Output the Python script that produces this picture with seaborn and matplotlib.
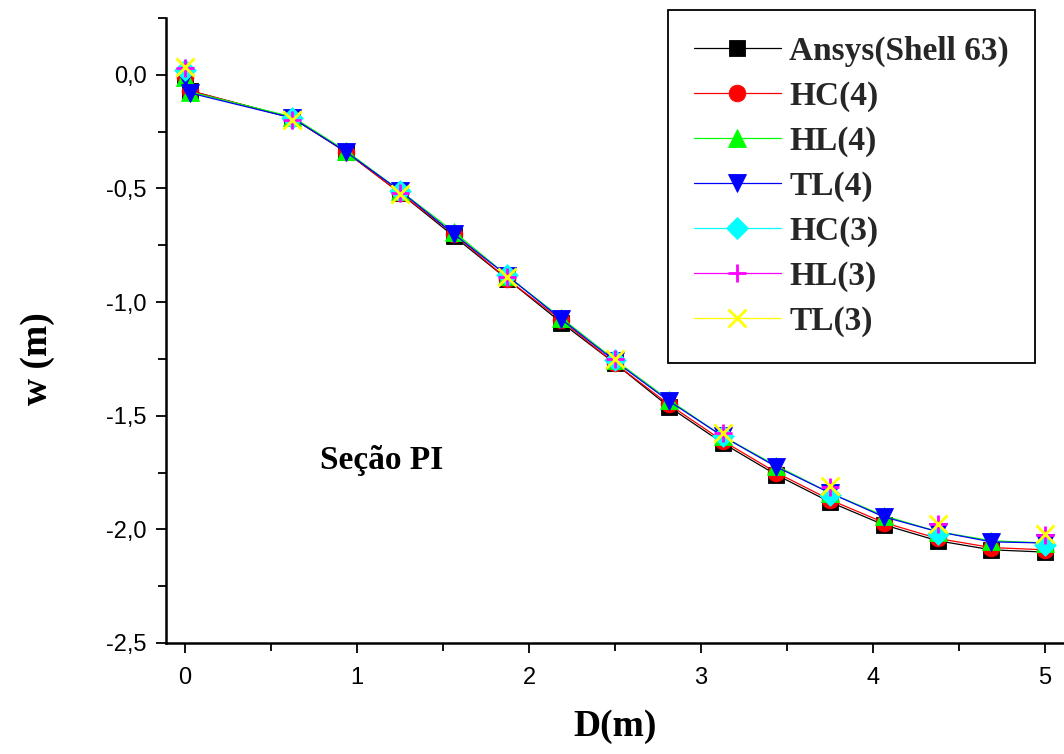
import matplotlib
matplotlib.use("Agg")
import matplotlib.pyplot as plt
from matplotlib.lines import Line2D
from matplotlib.ticker import FuncFormatter, MultipleLocator
import seaborn as sns

# Deflection w along the section, D in metres
d4 = [0.0, 0.03, 0.625, 0.9375, 1.25, 1.5625, 1.875, 2.1875, 2.5, 2.8125,
      3.125, 3.4375, 3.75, 4.0625, 4.375, 4.6875, 5.0]
ansys = [0.0, -0.07, -0.19, -0.34, -0.52, -0.71, -0.90, -1.09, -1.27, -1.46,
         -1.62, -1.76, -1.88, -1.98, -2.05, -2.09, -2.10]
hc4 = [-0.01, -0.07, -0.19, -0.34, -0.52, -0.70, -0.90, -1.08, -1.27, -1.45,
       -1.61, -1.75, -1.87, -1.97, -2.04, -2.08, -2.09]
hl4 = [-0.01, -0.075, -0.185, -0.335, -0.51, -0.69, -0.885, -1.07, -1.255, -1.43,
       -1.59, -1.72, -1.84, -1.94, -2.01, -2.05, -2.06]
tl4 = [-0.01, -0.08, -0.19, -0.34, -0.51, -0.70, -0.885, -1.075, -1.26, -1.435,
       -1.59, -1.725, -1.84, -1.945, -2.01, -2.055, -2.06]

d3 = [0.0, 0.625, 1.25, 1.875, 2.5, 3.125, 3.75, 4.375, 5.0]
hc3 = [0.02, -0.19, -0.51, -0.88, -1.255, -1.59, -1.85, -2.02, -2.07]
hl3 = [0.03, -0.20, -0.52, -0.89, -1.25, -1.575, -1.815, -1.975, -2.025]
tl3 = [0.035, -0.20, -0.525, -0.89, -1.25, -1.575, -1.81, -1.975, -2.02]

labels = ["Ansys(Shell 63)", "HC(4)", "HL(4)", "TL(4)", "HC(3)", "HL(3)", "TL(3)"]
colors = ["#000000", "#FF0000", "#00FF00", "#0000FF", "#00FFFF", "#FF00FF", "#FFFF00"]
markers = ["s", "o", "^", "v", "D", "+", "x"]
msizes = [11, 12, 13, 13, 11, 13, 13]

sns.set_theme(style="ticks")
plt.rcParams["font.family"] = ["Liberation Sans", "DejaVu Sans"]

fig = plt.figure(figsize=(10.64, 7.54), dpi=100)
ax = fig.add_axes([166 / 1064, 1 - 643 / 754, (1064 - 166) / 1064, (643 - 18) / 754])

series4 = [ansys, hc4, hl4, tl4]
for i, ys in enumerate(series4):
    sns.lineplot(x=d4, y=ys, ax=ax, color=colors[i], linewidth=0.9,
                 marker=markers[i], markersize=msizes[i],
                 markeredgecolor=colors[i], markeredgewidth=0.6,
                 sort=False, estimator=None, legend=False)

series3 = [hc3, hl3, tl3]
for j, ys in enumerate(series3):
    i = j + 4
    filled = markers[i] not in ("+", "x")
    sns.scatterplot(x=d3, y=ys, ax=ax, color=colors[i], marker=markers[i],
                    s=msizes[i] ** 2,
                    edgecolor=colors[i] if filled else None,
                    linewidth=0.6 if filled else 2.0,
                    legend=False, zorder=3)

ax.set_xlim(-0.11, 5.11)
ax.set_ylim(-2.5, 0.25)
ax.xaxis.set_major_locator(MultipleLocator(1))
ax.xaxis.set_minor_locator(MultipleLocator(0.5))
ax.yaxis.set_major_locator(MultipleLocator(0.5))
ax.yaxis.set_minor_locator(MultipleLocator(0.25))
ax.xaxis.set_major_formatter(FuncFormatter(lambda v, p: f"{v:.0f}"))
ax.yaxis.set_major_formatter(FuncFormatter(lambda v, p: f"{v:.1f}".replace(".", ",")))

for side in ("top", "right"):
    ax.spines[side].set_visible(False)
for side in ("left", "bottom"):
    ax.spines[side].set_linewidth(1.8)
    ax.spines[side].set_color("black")
ax.tick_params(which="both", direction="out", width=1.3, color="black",
               labelsize=17, labelcolor="black")
ax.tick_params(which="major", length=7)
ax.tick_params(axis="x", which="major", pad=10)
ax.tick_params(axis="y", which="major", pad=7)
ax.tick_params(which="minor", length=6)

serif = ["Liberation Serif", "DejaVu Serif"]
ax.set_xlabel("D(m)", family=serif, fontweight="bold", fontsize=27, color="black")
ax.set_ylabel("w (m)", family=serif, fontweight="bold", fontsize=27, color="black")
ax.xaxis.set_label_coords(0.5, -0.105)
ax.yaxis.set_label_coords(-0.124, 0.455)

ax.text(0.785, -1.734, "Seção PI", family=serif, fontweight="bold", fontsize=24,
        color="black", va="baseline", ha="left")

handles = []
for i in range(7):
    filled = markers[i] not in ("+", "x")
    handles.append(Line2D([], [], color=colors[i], linewidth=0.9, marker=markers[i],
                          markersize=msizes[i], markeredgecolor=colors[i],
                          markeredgewidth=0.6 if filled else 2.0))
leg = ax.legend(handles, labels, loc="upper left",
                bbox_to_anchor=(668 / 1064, 1 - 10 / 754), bbox_transform=fig.transFigure,
                borderaxespad=0, frameon=True, fancybox=False, numpoints=1,
                handlelength=2.6, handletextpad=0.25, labelspacing=0.41,
                borderpad=0.78,
                prop={"family": serif, "weight": "bold", "size": 24})
leg.get_frame().set_edgecolor("black")
leg.get_frame().set_linewidth(1.3)
leg.get_frame().set_alpha(1)

fig.savefig("out.png", dpi=100)
